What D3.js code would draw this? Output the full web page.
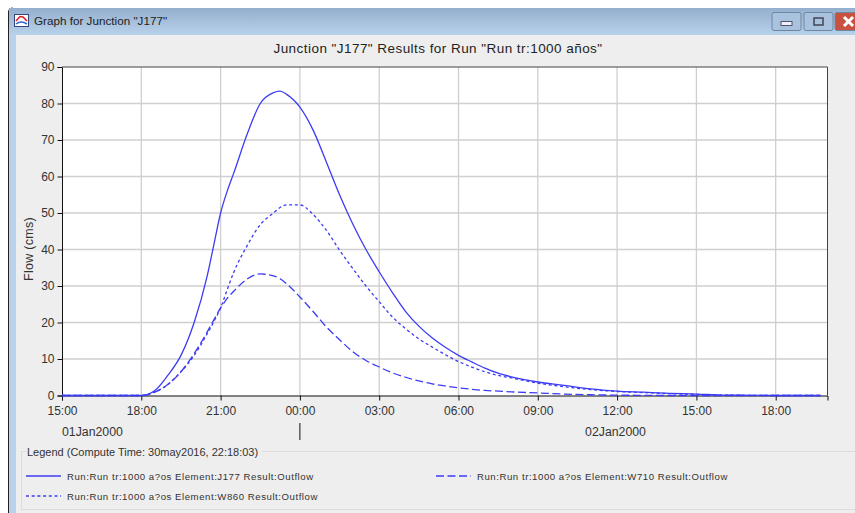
<!DOCTYPE html>
<html><head><meta charset="utf-8">
<style>html,body{margin:0;padding:0;background:#fff;overflow:hidden}svg{display:block}text{font-family:"Liberation Sans",Arial,sans-serif}</style>
<script src="https://cdn.jsdelivr.net/npm/d3@7"></script></head><body><div id="c"></div>
<script>
const chartTitle='Junction "J177" Results for Run "Run tr:1000 años"';
const windowTitle='Graph for Junction "J177"';
const yLabel='Flow (cms)';
const legendTitle='Legend (Compute Time: 30may2016, 22:18:03)';
const xTickLabels=['15:00','18:00','21:00','00:00','03:00','06:00','09:00','12:00','15:00','18:00'];
const xTickHours=[0,3,6,9,12,15,18,21,24,27];
const yTicks=[0,10,20,30,40,50,60,70,80,90];
const hours=[0,3,3.5,4,4.5,5,5.5,5.75,6,6.25,6.5,7,7.5,8,8.25,8.5,9,9.5,10,10.5,11,11.5,12,12.5,13,13.5,14,14.5,15,15.5,16,16.5,17,18,19,20,21,22,23,24,25,26,27,28,28.7];
const j177=[0,0,1.3,5.5,11,20,33,41.5,50,56,61,71.5,80,83,83.4,82.5,79,72.7,64,55,47,40,33.9,28.2,23,19,15.8,13.2,11,9.2,7.5,6.1,5.1,3.7,2.8,1.8,1.2,0.9,0.6,0.4,0.1,0.05,0,0,0];
const w860=[0,0,0.9,3,6.5,11,17,20.3,24,29,33.8,41,46.8,50,51.5,52.2,52.2,49.6,45.3,39.8,34.8,30,25.7,21.5,18.3,15.5,13.3,11.2,9.3,7.8,6.5,5.5,4.8,3.4,2.4,1.6,1.1,0.8,0.5,0.3,0.1,0.05,0,0,0];
const w710=[0,0,0.9,3,6.5,11.5,17.5,20.8,24,26.6,28.6,31.9,33.3,32.8,32,30.6,27,23,18.8,15.3,12,9.6,7.8,6.2,5,4,3.2,2.6,2.1,1.7,1.4,1.2,1,0.7,0.4,0.2,0.1,0.05,0,0,0,0,0,0,0];
const seriesNames=['Run:Run tr:1000 a?os Element:J177 Result:Outflow','Run:Run tr:1000 a?os Element:W710 Result:Outflow','Run:Run tr:1000 a?os Element:W860 Result:Outflow'];
const blue='#3c3cf5';

const W=855,H=513,L=62,R=827.5,T=67,B=395.5;
const svg=d3.select('#c').append('svg').attr('width',W).attr('height',H);
const x=d3.scaleLinear().domain([0,28.96]).range([L,R]);
const y=d3.scaleLinear().domain([0,90]).range([B,T]);

// window chrome
const grad=svg.append('defs').append('linearGradient').attr('id','tb').attr('x1',0).attr('x2',0).attr('y1',0).attr('y2',1);
grad.append('stop').attr('offset',0).attr('stop-color','#94afcd');
grad.append('stop').attr('offset',1).attr('stop-color','#b7d0ea');
svg.append('rect').attr('x',9).attr('y',8).attr('width',846).attr('height',505).attr('fill','#b9d1ea');
svg.append('path').attr('d','M8.5,513V12Q8.5,8 13,8').attr('fill','none').attr('stroke','#222');
svg.append('rect').attr('x',9).attr('y',8).attr('width',846).attr('height',26).attr('fill','url(#tb)');
svg.append('rect').attr('x',16).attr('y',35).attr('width',839).attr('height',478).attr('fill','#eeeeee');
svg.append('rect').attr('x',14.5).attr('y',14.5).attr('width',14).attr('height',12).attr('fill','#fff').attr('stroke','#33457a');
svg.append('path').attr('d','M16,21L20,16.5L23,17L27,21').attr('fill','none').attr('stroke','#d22').attr('stroke-width',1.6);
svg.append('path').attr('d','M16,24Q21,20 27,24').attr('fill','none').attr('stroke','#36c').attr('stroke-width',1.6);
svg.append('text').attr('x',34).attr('y',25).attr('font-size',11.7).attr('fill','#222').text(windowTitle);
// window buttons
const btn=(bx,w,fill)=>svg.append('rect').attr('x',bx).attr('y',12.5).attr('width',w).attr('height',18).attr('rx',2).attr('fill',fill).attr('stroke','#6f86a3');
btn(772,29,'#a9c2de');btn(804,29,'#a9c2de');btn(835,22,'#c8523f');
svg.append('rect').attr('x',781).attr('y',21.5).attr('width',11).attr('height',4).attr('fill','#eef').attr('stroke','#556');
svg.append('rect').attr('x',814).attr('y',18).attr('width',9).attr('height',7).attr('fill','none').attr('stroke','#445').attr('stroke-width',1.5);
svg.append('path').attr('d','M844,17L853,26M853,17L844,26').attr('stroke','#fff').attr('stroke-width',3);

// title
svg.append('text').attr('x',438).attr('y',52.5).attr('text-anchor','middle').attr('font-size',13.5).attr('letter-spacing',0.45).attr('fill','#222').text(chartTitle);

// plot
svg.append('rect').attr('x',L).attr('y',T).attr('width',R-L).attr('height',B-T).attr('fill','#fff');
svg.append('g').selectAll('line').data(yTicks.slice(1,-1)).join('line')
  .attr('x1',L).attr('x2',R).attr('y1',d=>y(d)).attr('y2',d=>y(d)).attr('stroke','#cfcfcf').attr('stroke-width',1.3);
svg.append('g').selectAll('line').data(xTickHours.slice(1)).join('line')
  .attr('y1',T).attr('y2',B).attr('x1',d=>x(d)).attr('x2',d=>x(d)).attr('stroke','#cfcfcf').attr('stroke-width',1.3);

// axes
const ya=svg.append('g').attr('transform',`translate(${L},0)`).call(d3.axisLeft(y).tickValues(yTicks).tickSize(4.5).tickPadding(3));
const xa=svg.append('g').attr('transform',`translate(0,${B})`).call(d3.axisBottom(x).tickValues(xTickHours).tickSize(5).tickPadding(6).tickFormat((d,i)=>xTickLabels[i]));
[ya,xa].forEach(g=>{g.selectAll('text').attr('font-size',12).attr('fill','#333').style('font-family','"Liberation Sans",Arial,sans-serif');g.selectAll('path,line').attr('stroke','#111');});
svg.append('path').attr('d',`M${L},${T}H${R}V${B}`).attr('fill','none').attr('stroke','#444').attr('stroke-width',1);

svg.append('text').attr('transform','translate(33,249) rotate(-90)').attr('text-anchor','middle').attr('font-size',12.5).attr('letter-spacing',0.3).attr('fill','#333').text(yLabel);
svg.append('text').attr('x',62).attr('y',436).attr('font-size',12.3).attr('fill','#333').text('01Jan2000');
svg.append('text').attr('x',615.5).attr('y',436).attr('text-anchor','middle').attr('font-size',12.3).attr('fill','#333').text('02Jan2000');
svg.append('line').attr('x1',x(9)).attr('x2',x(9)).attr('y1',423).attr('y2',440).attr('stroke','#111');

// series
const styles=[{v:j177,d:null},{v:w710,d:'8,3.5'},{v:w860,d:'3,2.7'}];
const line=d3.line().x((d,i)=>x(hours[i])).y(d=>y(d)).curve(d3.curveMonotoneX);
svg.append('g').selectAll('path').data(styles).join('path')
  .attr('d',d=>line(d.v)).attr('fill','none').attr('stroke',blue).attr('stroke-width',1.3)
  .attr('stroke-dasharray',d=>d.d);

// legend
svg.append('rect').attr('x',21.5).attr('y',451.5).attr('width',840).attr('height',58).attr('fill','none').attr('stroke','#dcdcdc');
svg.append('rect').attr('x',26).attr('y',446).attr('width',236).attr('height',12).attr('fill','#eeeeee');
svg.append('text').attr('x',27).attr('y',456).attr('font-size',11).attr('fill','#333').text(legendTitle);
const legendPos=[{x:26,y:476},{x:436,y:476},{x:26,y:496}];
const lg=svg.append('g').selectAll('g').data(styles).join('g');
lg.append('line').attr('x1',(d,i)=>legendPos[i].x).attr('x2',(d,i)=>legendPos[i].x+35)
  .attr('y1',(d,i)=>legendPos[i].y).attr('y2',(d,i)=>legendPos[i].y)
  .attr('stroke',blue).attr('stroke-width',1.3).attr('stroke-dasharray',d=>d.d);
lg.append('text').attr('x',(d,i)=>legendPos[i].x+41).attr('y',(d,i)=>legendPos[i].y+3.5)
  .attr('font-size',9.6).attr('letter-spacing',0.55).attr('fill','#333').text((d,i)=>seriesNames[i]);
</script></body></html>
